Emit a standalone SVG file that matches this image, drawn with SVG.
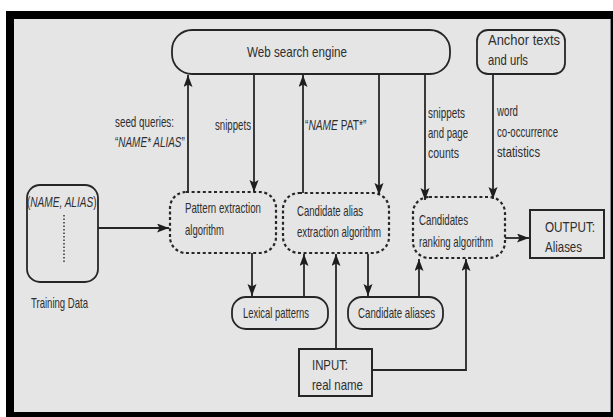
<svg xmlns="http://www.w3.org/2000/svg" width="613" height="417" viewBox="0 0 613 417">
<style>
text{font-family:"Liberation Sans",Arial,sans-serif;font-size:14.5px;fill:#2e2e2e;}
.it{font-style:italic;}
.solid{fill:none;stroke:#262626;stroke-width:1.8;}
.dash{fill:none;stroke:#262626;stroke-width:2.2;stroke-dasharray:3 2.6;}
.conn path{fill:none;stroke:#262626;stroke-width:1.8;marker-end:url(#ah);}
</style>
<defs>
<marker id="ah" markerUnits="userSpaceOnUse" markerWidth="13" markerHeight="10" refX="12" refY="4.5" orient="auto">
<path d="M0,0 L12,4.5 L0,9 L2.5,4.5 Z" fill="#1e1e1e"/>
</marker>
</defs>
<rect x="0" y="0" width="613" height="417" fill="#ffffff"/>
<rect x="6" y="11" width="607" height="406" fill="#000000"/>
<rect x="14" y="19" width="596" height="393" fill="#e5e5e5"/>
<line x1="610.5" y1="19" x2="610.5" y2="412" stroke="#8a8a8a" stroke-width="1"/>

<g id="web">
<rect class="solid" x="172" y="30" width="278" height="44" rx="20"/>
<text x="247" y="57" textLength="100" lengthAdjust="spacingAndGlyphs" style="font-size:15px">Web search engine</text>
</g>
<g id="anchor">
<rect class="solid" x="477" y="30" width="88" height="44" rx="11"/>
<text x="488" y="45" textLength="72" lengthAdjust="spacingAndGlyphs">Anchor texts</text>
<text x="488" y="65" textLength="40" lengthAdjust="spacingAndGlyphs">and urls</text>
</g>
<g id="training">
<rect class="solid" x="27" y="185" width="71" height="97" rx="13"/>
<text transform="translate(27,207) scale(0.695,1)">(<tspan class="it">NAME, ALIAS</tspan>)</text>
<line x1="64" y1="215" x2="64" y2="263" stroke="#333" stroke-width="1.5" stroke-dasharray="1.5 2"/>
<text x="31" y="308" textLength="57" lengthAdjust="spacingAndGlyphs">Training Data</text>
</g>
<g id="pattern">
<rect class="dash" x="170" y="192" width="106" height="61" rx="16"/>
<text x="185" y="213" textLength="76" lengthAdjust="spacingAndGlyphs">Pattern extraction</text>
<text x="185" y="235" textLength="39" lengthAdjust="spacingAndGlyphs">algorithm</text>
</g>
<g id="candalias">
<rect class="dash" x="283" y="193" width="106" height="60" rx="16"/>
<text x="297" y="216" textLength="66" lengthAdjust="spacingAndGlyphs">Candidate alias</text>
<text x="297" y="237" textLength="84" lengthAdjust="spacingAndGlyphs">extraction algorithm</text>
</g>
<g id="ranking">
<rect class="dash" x="413" y="197" width="92" height="61" rx="16"/>
<text x="419" y="225" textLength="49" lengthAdjust="spacingAndGlyphs">Candidates</text>
<text x="419" y="247" textLength="74" lengthAdjust="spacingAndGlyphs">ranking algorithm</text>
</g>
<g id="output">
<rect class="solid" x="530" y="210" width="74" height="48" style="stroke-width:2"/>
<text x="545" y="232" textLength="50" lengthAdjust="spacingAndGlyphs">OUTPUT:</text>
<text x="545" y="252" textLength="37" lengthAdjust="spacingAndGlyphs">Aliases</text>
</g>
<g id="lexical">
<rect class="solid" x="232" y="297" width="96" height="32" rx="14"/>
<text x="243" y="318" textLength="66" lengthAdjust="spacingAndGlyphs">Lexical patterns</text>
</g>
<g id="candaliases">
<rect class="solid" x="348" y="297" width="95" height="32" rx="14"/>
<text x="358" y="318" textLength="77" lengthAdjust="spacingAndGlyphs">Candidate aliases</text>
</g>
<g id="input">
<rect class="solid" x="299" y="349" width="73" height="47" style="stroke-width:2"/>
<text x="312" y="370" textLength="36" lengthAdjust="spacingAndGlyphs">INPUT:</text>
<text x="312" y="390" textLength="51" lengthAdjust="spacingAndGlyphs">real name</text>
</g>

<g id="labels">
<text x="115" y="127" textLength="59" lengthAdjust="spacingAndGlyphs">seed queries:</text>
<text transform="translate(115,147) scale(0.686,1)">“<tspan class="it">NAME* ALIAS</tspan>”</text>
<text x="215" y="130" textLength="36" lengthAdjust="spacingAndGlyphs">snippets</text>
<text transform="translate(305,130) scale(0.705,1)">“<tspan class="it">NAME</tspan> PAT*”</text>
<text x="428" y="118" textLength="37" lengthAdjust="spacingAndGlyphs">snippets</text>
<text x="428" y="138" textLength="40" lengthAdjust="spacingAndGlyphs">and page</text>
<text x="428" y="158" textLength="31" lengthAdjust="spacingAndGlyphs">counts</text>
<text x="497" y="116" textLength="21" lengthAdjust="spacingAndGlyphs">word</text>
<text x="497" y="137" textLength="61" lengthAdjust="spacingAndGlyphs">co-occurrence</text>
<text x="497" y="157" textLength="43" lengthAdjust="spacingAndGlyphs">statistics</text>
</g>

<g id="connectors" class="conn">
<path d="M188,192 V75"/>
<path d="M254,75 V192"/>
<path d="M303,193 V75"/>
<path d="M379,75 V195"/>
<path d="M425,75 V200"/>
<path d="M493,75 V199"/>
<path d="M98,228 H169"/>
<path d="M505,238 H529"/>
<path d="M252,253 V296"/>
<path d="M304,297 V254"/>
<path d="M336,349 V254"/>
<path d="M368,254 V296"/>
<path d="M419,297 V259"/>
<path d="M372,370 H466 V259"/>
</g>
</svg>
